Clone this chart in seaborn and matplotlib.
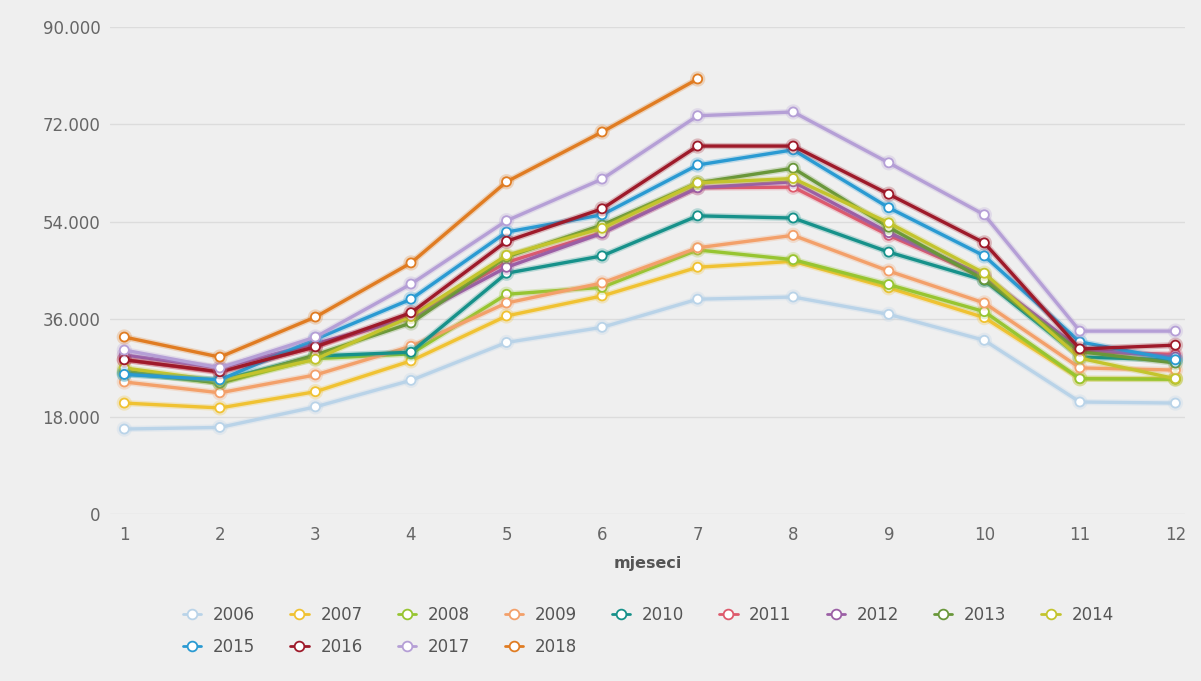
import numpy as np
import pandas as pd
import seaborn as sns
from matplotlib import pyplot as plt
from matplotlib import patheffects as pe
from matplotlib.ticker import FuncFormatter
from matplotlib.lines import Line2D

months = list(range(1, 13))
years = ['2006', '2007', '2008', '2009', '2010', '2011', '2012',
         '2013', '2014', '2015', '2016', '2017', '2018']

v2006 = [15700, 16000, 19800, 24700, 31700, 34500, 39700, 40100, 36900, 32100, 20700, 20500]
v2007 = [20500, 19600, 22600, 28300, 36600, 40300, 45600, 46700, 41800, 36300, 25000, 25000]
v2008 = [26200, 24200, 28700, 29600, 40600, 41900, 48800, 47000, 42400, 37400, 25000, 24900]
v2009 = [24400, 22400, 25700, 31000, 39000, 42700, 49200, 51500, 44900, 39000, 27000, 26600]
v2010 = [25900, 24700, 29200, 29900, 44500, 47700, 55100, 54700, 48400, 43200, 29000, 28500]
v2011 = [28500, 26200, 30900, 36600, 46500, 52000, 60300, 60400, 51500, 43800, 30000, 29500]
v2012 = [29400, 27000, 31500, 36200, 45600, 51900, 60300, 61400, 52000, 44000, 30500, 29000]
v2013 = [26400, 24200, 29400, 35300, 47500, 53400, 61200, 63900, 53000, 43300, 30000, 27900]
v2014 = [27000, 24600, 28600, 36500, 47800, 52800, 61200, 62000, 53800, 44500, 28800, 25000]
v2015 = [25800, 24800, 32300, 39700, 52100, 55300, 64500, 67300, 56600, 47700, 31800, 28500]
v2016 = [28500, 26300, 30900, 37200, 50400, 56400, 68000, 68000, 59100, 50100, 30500, 31200]
v2017 = [30300, 27000, 32700, 42500, 54200, 61900, 73600, 74300, 64900, 55300, 33800, 33800]
v2018 = [32700, 29000, 36400, 46400, 61400, 70600, 80400]

series = [v2006, v2007, v2008, v2009, v2010, v2011, v2012,
          v2013, v2014, v2015, v2016, v2017, v2018]

colors = ['#b9d3e8', '#f0c232', '#97c531', '#f3a06a', '#16918a', '#de5a6c',
          '#9b5fa5', '#69973a', '#c3c42d', '#2a9ad2', '#9e1a2a', '#b59fd6', '#e07c22']
palette = dict(zip(years, colors))

rows = []
for y, vals in zip(years, series):
    for m, v in zip(months, vals):
        rows.append({'mjeseci': m, 'godina': y, 'vrijednost': v})
df = pd.DataFrame(rows)

bg = '#efefef'
sns.set_theme(style='white')
plt.rcParams['font.family'] = ['DejaVu Sans']

fig = plt.figure(figsize=(12.01, 6.81), dpi=100, facecolor=bg)
ax = fig.add_axes([110/1201, 1 - 514/681, 1075/1201, 487/681])
ax.set_facecolor(bg)

sns.lineplot(data=df, x='mjeseci', y='vrijednost', hue='godina', palette=palette,
             marker='o', markersize=6.5, linewidth=2.4, legend=False, ax=ax)

for line in ax.lines:
    c = line.get_color()
    line.set_markerfacecolor('white')
    line.set_markeredgecolor(c)
    line.set_markeredgewidth(1.3)
    line.set_path_effects([pe.Stroke(linewidth=4.5, foreground=c, alpha=0.25), pe.Normal()])

ax.set_xlim(0.85, 12.1)
ax.set_ylim(0, 90000)
ax.set_xticks(months)
ax.set_yticks(np.arange(0, 90001, 18000))
ax.yaxis.set_major_formatter(FuncFormatter(lambda v, p: '0' if v == 0 else f'{int(v):,}'.replace(',', '.')))
ax.grid(axis='y', color='#dcdcdc', linewidth=1)
ax.set_axisbelow(True)
for s in ax.spines.values():
    s.set_visible(False)
ax.tick_params(axis='both', length=0, labelsize=12, colors='#666666')
ax.tick_params(axis='x', pad=9)
ax.tick_params(axis='y', pad=7)
ax.set_ylabel('')
ax.set_xlabel('mjeseci', fontsize=11.5, fontweight='bold', color='#555555', labelpad=8)

# legend fills column by column, so reorder to get two rows: 2006-2014 / 2015-2018
order = [0, 9, 1, 10, 2, 11, 3, 12, 4, 5, 6, 7, 8]
handles = [Line2D([0], [0], color=colors[i], linewidth=2, marker='o', markersize=7,
                  markerfacecolor='white', markeredgecolor=colors[i], markeredgewidth=1.3)
           for i in order]
labels = [years[i] for i in order]
fig.legend(handles, labels, loc='upper left', bbox_to_anchor=(168/1201, 1 - 591/681),
           ncol=9, frameon=False, fontsize=12, labelcolor='#555555',
           handlelength=1.1, handletextpad=0.7, columnspacing=2.1, labelspacing=0.82)

plt.savefig('out.png', dpi=100, facecolor=bg)
